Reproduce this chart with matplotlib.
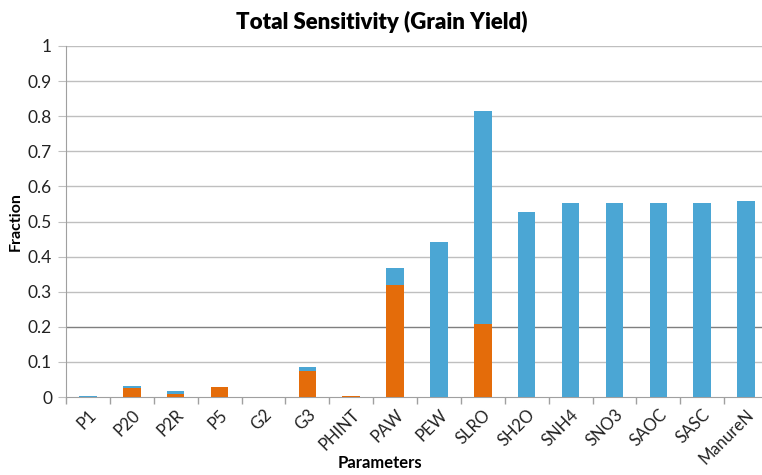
import numpy as np
import matplotlib.pyplot as plt

# Parameters and sensitivity indices
params = ['P1', 'P20', 'P2R', 'P5', 'G2', 'G3', 'PHINT', 'PAW', 'PEW', 'SLRO',
          'SH2O', 'SNH4', 'SNO3', 'SAOC', 'SASC', 'ManureN']
first_order = [0.0, 0.027, 0.008, 0.028, 0.0, 0.075, 0.003, 0.320, 0.0, 0.207,
               0.0, 0.0, 0.0, 0.0, 0.0, 0.0]
total_order = [0.003, 0.032, 0.017, 0.029, 0.0, 0.085, 0.003, 0.367, 0.443, 0.815,
               0.528, 0.553, 0.553, 0.553, 0.553, 0.558]

orange = '#E46C0A'
blue = '#4BA6D4'

plt.rcParams['font.family'] = ['Lato', 'DejaVu Sans']

fig = plt.figure(figsize=(7.62, 4.75), dpi=100)
ax = fig.add_axes([66 / 762, 78 / 475, 702 / 762, 351 / 475])

x = np.arange(len(params))
first = np.array(first_order)
rest = np.array(total_order) - first

ax.bar(x, first, width=0.4, color=orange, zorder=3)
ax.bar(x, rest, width=0.4, bottom=first, color=blue, zorder=3)

ax.set_xlim(-0.5, len(params) - 0.5)
ax.set_ylim(0, 1)
ax.set_yticks(np.arange(0, 1.01, 0.1))
ax.set_yticklabels(['0'] + [f'{v:.1f}' for v in np.arange(0.1, 0.95, 0.1)] + ['1'])

# gridlines, the 0.2 one is darker in the original
for v in np.arange(0.1, 1.01, 0.1):
    c = '#7F7F7F' if abs(v - 0.2) < 1e-6 else '#BFBFBF'
    ax.axhline(v, color=c, lw=1.0, zorder=1)

ax.set_xticks(x)
ax.set_xticklabels(params, rotation=45, ha='right', rotation_mode='anchor',
                   fontsize=12, color='#222222')
ax.set_xticks(np.arange(-0.5, len(params), 1.0), minor=True)
ax.tick_params(axis='x', which='major', length=0, pad=7)
ax.tick_params(axis='x', which='minor', length=5, color='#A0A0A0', width=1)
ax.tick_params(axis='y', length=6, color='#BFBFBF', labelsize=12.5, labelcolor='#222222', pad=4)

for s in ['top', 'right']:
    ax.spines[s].set_visible(False)
ax.spines['left'].set_color('#A0A0A0')
ax.spines['bottom'].set_color('#A0A0A0')

ax.set_ylabel('Fraction', fontsize=11.5, fontweight='bold', labelpad=4)
fig.text(380 / 762, 1 - 463 / 475, 'Parameters', fontsize=12, fontweight='bold',
         ha='center', va='center')
fig.text(382 / 762, 1 - 22 / 475, 'Total Sensitivity (Grain Yield)', fontsize=16,
         fontweight='heavy', ha='center', va='center')

plt.savefig('out.png', dpi=100)
